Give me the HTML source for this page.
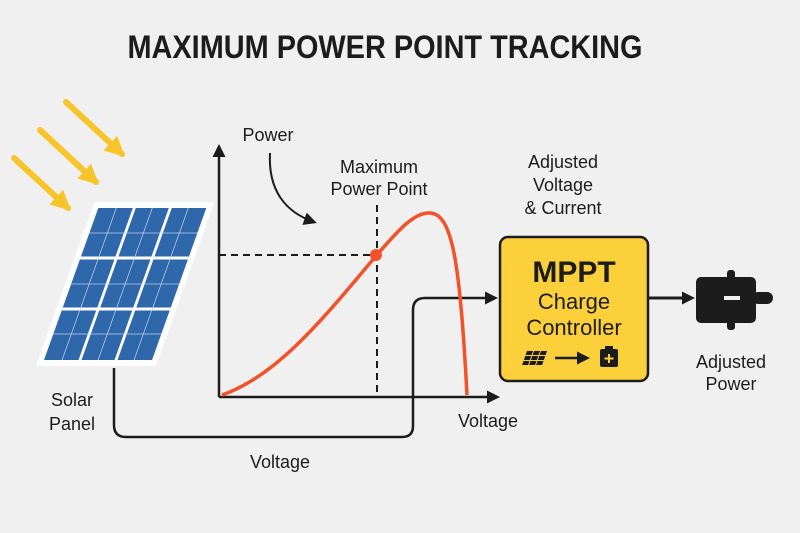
<!DOCTYPE html>
<html><head><meta charset="utf-8"><style>
html,body{margin:0;padding:0;background:#f0f0f0;}
svg{display:block;}
text{font-family:"Liberation Sans","DejaVu Sans",sans-serif;fill:#1c1c1c;}
</style></head><body>
<svg width="800" height="533" viewBox="0 0 800 533" xmlns="http://www.w3.org/2000/svg">
<rect width="800" height="533" fill="#f0f0f0"/>
<defs>
<marker id="ah" markerWidth="13" markerHeight="13" refX="10" refY="6.5" orient="auto" markerUnits="userSpaceOnUse"><path d="M0,0 L13,6.5 L0,13 Z" fill="#1c1c1c"/></marker>
<marker id="ya" markerWidth="20" markerHeight="20" refX="16" refY="10" orient="auto" markerUnits="userSpaceOnUse"><path d="M0,0 L20,10 L0,20 Z" fill="#f7c52a"/></marker>
</defs>
<text x="385" y="58" font-size="32" font-weight="bold" text-anchor="middle" textLength="515" lengthAdjust="spacingAndGlyphs">MAXIMUM POWER POINT TRACKING</text>
<g stroke="#f7c52a" stroke-width="6" stroke-linecap="round" marker-end="url(#ya)">
<line x1="66" y1="102" x2="122" y2="154"/>
<line x1="40" y1="130" x2="96" y2="182"/>
<line x1="14" y1="158" x2="68" y2="208"/>
</g>
<g transform="matrix(1,0,-0.357,1,97,206)">
<rect x="-4" y="-4" width="120" height="164" fill="#fff"/>
<rect x="2" y="2" width="108" height="152" fill="#2f67ab"/>
<g stroke="#fff" stroke-width="3">
<line x1="38" y1="2" x2="38" y2="154"/><line x1="74" y1="2" x2="74" y2="154"/>
<line x1="2" y1="52" x2="110" y2="52"/><line x1="2" y1="103" x2="110" y2="103"/>
</g>
<g stroke="#bcd0ea" stroke-width="0.8">
<line x1="20" y1="2" x2="20" y2="154"/><line x1="56" y1="2" x2="56" y2="154"/><line x1="92" y1="2" x2="92" y2="154"/>
<line x1="2" y1="27" x2="110" y2="27"/><line x1="2" y1="78" x2="110" y2="78"/><line x1="2" y1="128" x2="110" y2="128"/>
</g>
</g>
<text x="72" y="406" font-size="18" text-anchor="middle">Solar</text>
<text x="72" y="430" font-size="18" text-anchor="middle">Panel</text>
<path d="M114,368 V425 Q114,437 126,437 H402 Q413,437 413,426 V310 Q413,298 425,298 H495" fill="none" stroke="#1c1c1c" stroke-width="2.5" marker-end="url(#ah)"/>
<text x="280" y="468" font-size="18" text-anchor="middle">Voltage</text>
<line x1="219" y1="397" x2="219" y2="147" stroke="#1c1c1c" stroke-width="2.5" marker-end="url(#ah)"/>
<line x1="219" y1="397" x2="497" y2="397" stroke="#1c1c1c" stroke-width="2.5" marker-end="url(#ah)"/>
<line x1="219" y1="255" x2="375" y2="255" stroke="#1c1c1c" stroke-width="2" stroke-dasharray="7,5"/>
<line x1="377" y1="205" x2="377" y2="397" stroke="#1c1c1c" stroke-width="2" stroke-dasharray="7,5"/>
<path d="M222,395 C280,375 330,310 376,256 C400,228 415,212 430,213 C452,214 460,260 467,395" fill="none" stroke="#f4512a" stroke-width="3.5"/>
<circle cx="376" cy="255" r="6" fill="#f4512a"/>
<text x="268" y="141" font-size="18" text-anchor="middle">Power</text>
<path d="M270,153 C268,190 285,212 314,222" fill="none" stroke="#1c1c1c" stroke-width="2" marker-end="url(#ah)"/>
<text x="379" y="173" font-size="18" text-anchor="middle">Maximum</text>
<text x="379" y="195" font-size="18" text-anchor="middle">Power Point</text>
<text x="488" y="427" font-size="18" text-anchor="middle">Voltage</text>
<text x="563" y="168" font-size="18" text-anchor="middle">Adjusted</text>
<text x="563" y="191" font-size="18" text-anchor="middle">Voltage</text>
<text x="563" y="214" font-size="18" text-anchor="middle">&amp; Current</text>
<rect x="500" y="237" width="148" height="144" rx="8" fill="#fcd03a" stroke="#1c1c1c" stroke-width="2.5"/>
<text x="574" y="282" font-size="30" font-weight="bold" text-anchor="middle">MPPT</text>
<text x="574" y="309" font-size="22" text-anchor="middle">Charge</text>
<text x="574" y="335" font-size="22" text-anchor="middle">Controller</text>
<g transform="matrix(1,0,-0.35,1,527,351)" fill="#1c1c1c">
<rect x="0" y="0" width="6" height="4"/><rect x="7" y="0" width="6" height="4"/><rect x="14" y="0" width="6" height="4"/>
<rect x="0" y="5" width="6" height="4"/><rect x="7" y="5" width="6" height="4"/><rect x="14" y="5" width="6" height="4"/>
<rect x="0" y="10" width="6" height="4"/><rect x="7" y="10" width="6" height="4"/><rect x="14" y="10" width="6" height="4"/>
</g>
<line x1="555" y1="358" x2="587" y2="358" stroke="#1c1c1c" stroke-width="2.5" marker-end="url(#ah)"/>
<rect x="600" y="349" width="18" height="18" rx="2" fill="#1c1c1c"/>
<rect x="605" y="346" width="8" height="4" fill="#1c1c1c"/>
<path d="M609,354 v9 M604.5,358.5 h9" stroke="#fcd03a" stroke-width="2"/>
<line x1="648" y1="298" x2="692" y2="298" stroke="#1c1c1c" stroke-width="3" marker-end="url(#ah)"/>
<rect x="696" y="277" width="60" height="46" rx="5" fill="#1c1c1c"/>
<rect x="727" y="270" width="8" height="10" rx="3" fill="#1c1c1c"/>
<rect x="727" y="320" width="8" height="10" rx="3" fill="#1c1c1c"/>
<rect x="752" y="292" width="21" height="12" rx="6" fill="#1c1c1c"/>
<rect x="724" y="296" width="16" height="4" fill="#f0f0f0"/>
<text x="731" y="368" font-size="18" text-anchor="middle">Adjusted</text>
<text x="731" y="390" font-size="18" text-anchor="middle">Power</text>
</svg>
</body></html>
